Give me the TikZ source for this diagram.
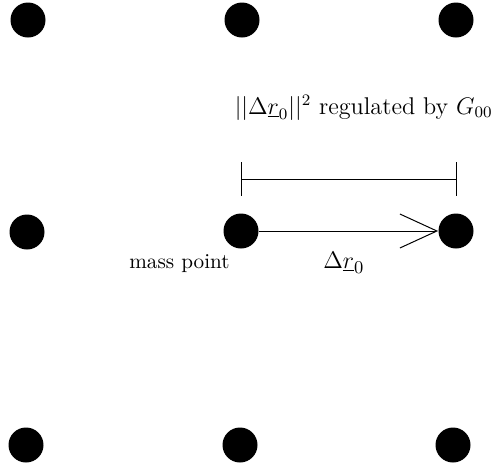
\documentclass[tikz,border=0pt]{standalone}
\usetikzlibrary{arrows.meta}
\begin{document}
\begin{tikzpicture}[x=0.5pt,y=-0.5pt,
  dot/.style={circle,fill=black,draw=none,minimum size=17.5pt,inner sep=0pt},
  lbl/.style={inner sep=0pt},
  thin line/.style={line width=0.5pt}]
\useasboundingbox (0,0) rectangle (497,467);
\node[dot] (d11) at (28,20) {};
\node[dot] (d12) at (242,20) {};
\node[dot] (d13) at (456,20) {};
\node[dot] (d21) at (27,232) {};
\node[dot] (m) at (241,231) {};
\node[dot] (r) at (456,231) {};
\node[dot] (d31) at (26,445) {};
\node[dot] (d32) at (240,445) {};
\node[dot] (d33) at (453,445) {};
\coordinate (tl) at (241,162);
\coordinate (bl) at (241,196);
\coordinate (tr) at (456,162);
\coordinate (br) at (456,196);
\coordinate (ml) at (241,179);
\coordinate (mr) at (456,179);
\draw[thin line] (tl) -- (bl);
\draw[thin line] (tr) -- (br);
\draw[thin line] (ml) -- (mr);
\draw[thin line,-{Straight Barb[length=18.5pt,width=17pt,line width=0.5pt]}] (m) -- (r);
\node[lbl,anchor=base east,font=\fontsize{12.1}{15}\selectfont] (t1) at (493,114) {$||\Delta\underline{r}_0||^2$ regulated by $G_{00}$};
\node[lbl,anchor=base east,font=\fontsize{10.6}{13}\selectfont] (t2) at (230,268) {mass point};
\node[lbl,anchor=base west,font=\fontsize{13}{15}\selectfont] (t3) at (323,268) {$\Delta\underline{r}_0$};
\end{tikzpicture}
\end{document}
